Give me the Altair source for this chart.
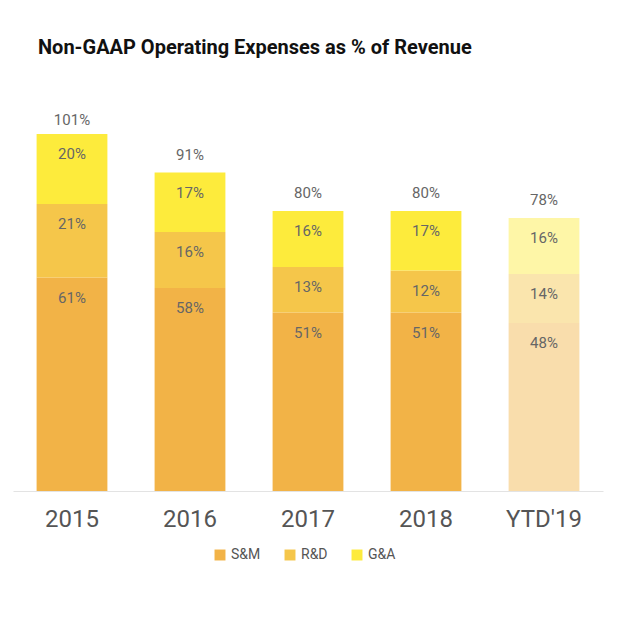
import altair as alt
import pandas as pd

years = ["2015", "2016", "2017", "2018", "YTD'19"]
sm = [61, 58, 51, 51, 48]
rd = [21, 16, 13, 12, 14]
ga = [20, 17, 16, 17, 16]
totals = [101, 91, 80, 80, 78]
cats = ["S&M", "R&D", "G&A"]

rows = []
for i, y in enumerate(years):
    base = 0
    for c, v in zip(cats, [sm[i], rd[i], ga[i]]):
        rows.append({"year": y, "cat": c, "v": v, "y0": base, "y1": base + v,
                     "lab": f"{v}%", "ytd": y == "YTD'19"})
        base += v
df = pd.DataFrame(rows)
tot = pd.DataFrame({"year": years, "t": totals, "lab": [f"{t}%" for t in totals]})

colors = ["#F2B347", "#F5C64A", "#FDEB3C"]
xenc = alt.X("year:N", sort=years, title=None,
             axis=alt.Axis(labelFontSize=24, labelColor="#555", labelPadding=16,
                           ticks=False, domainColor="#e3e3e3", labelAngle=0),
             scale=alt.Scale(paddingInner=0.4, paddingOuter=0.2))
yscale = alt.Scale(domain=[0, 118], nice=False)

bars = alt.Chart(df[~df.ytd]).mark_bar().encode(
    x=xenc,
    y=alt.Y("y0:Q", scale=yscale, axis=None),
    y2="y1:Q",
    color=alt.Color("cat:N", sort=cats, scale=alt.Scale(domain=cats, range=colors),
                    legend=alt.Legend(orient="none", legendX=200, legendY=470, direction="horizontal",
                                      title=None, labelFontSize=14,
                                      labelColor="#555", symbolType="square",
                                      symbolSize=120, columnPadding=22)),
)
ytd = alt.Chart(df[df.ytd]).mark_bar(opacity=0.45).encode(
    x=alt.X("year:N", sort=years),
    y=alt.Y("y0:Q", scale=yscale), y2="y1:Q",
    color=alt.Color("cat:N", sort=cats, scale=alt.Scale(domain=cats, range=colors), legend=None),
)
seg = alt.Chart(df).mark_text(fontSize=15, color="#666", dy=20).encode(
    x=alt.X("year:N", sort=years), y=alt.Y("y1:Q", scale=yscale), text="lab:N")
top = alt.Chart(tot).mark_text(fontSize=15, color="#666", dy=-18).encode(
    x=alt.X("year:N", sort=years), y=alt.Y("t:Q", scale=yscale), text="lab:N")

chart = alt.layer(bars, ytd, seg, top).properties(
    width=590, height=413,
    padding={"top": 30, "left": 5, "right": 5, "bottom": 5},
    title=alt.Title("Non-GAAP Operating Expenses as % of Revenue", fontSize=20,
                    fontWeight="bold", color="#111", anchor="start", offset=20, dx=25),
).configure(font="Roboto").configure_view(stroke=None)

chart.save("out.html", embed_options={"renderer": "svg", "actions": False})
